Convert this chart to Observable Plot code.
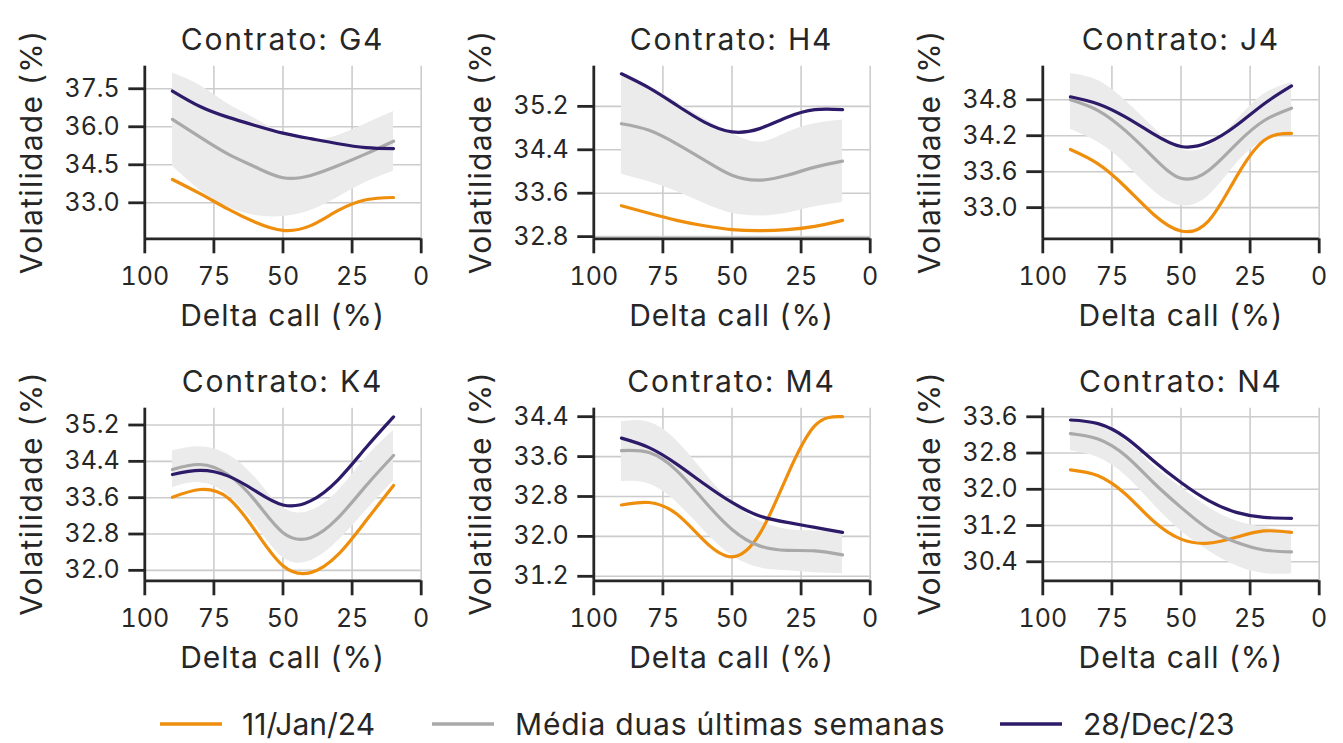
<!DOCTYPE html>
<html><head><meta charset="utf-8">
<script src="https://cdn.jsdelivr.net/npm/d3@7"></script>
<script src="https://cdn.jsdelivr.net/npm/@observablehq/plot@0.6"></script>
<style>
body{margin:0;background:#fff;}
#wrap{position:relative;width:1343px;height:743px;overflow:hidden;background:#fff;font-family:Inter,sans-serif;}
#wrap svg{position:absolute;}
</style></head><body><div id="wrap"></div>
<script>
// ---- data ----
const contracts = ["G4","H4","J4","K4","M4","N4"];
const deltas = [90,80,70,60,50,40,30,20,10];
const xTicks = [100,75,50,25,0];
const seriesNames = ["11/Jan/24","Média duas últimas semanas","28/Dec/23"];
const seriesColors = ["#ef8e0c","#a9a9a9","#2d1b69"];

const jan11 = [
  [33.92,33.36,32.76,32.23,31.91,32.10,32.70,33.12,33.21],
  [33.37,33.23,33.10,33.00,32.93,32.91,32.93,32.99,33.10],
  [33.97,33.73,33.34,32.89,32.61,32.78,33.51,34.12,34.24],
  [33.61,33.78,33.60,32.87,32.10,31.95,32.35,33.09,33.87],
  [32.63,32.68,32.45,31.91,31.59,32.05,33.22,34.22,34.40],
  [32.43,32.30,31.89,31.30,30.90,30.81,30.94,31.08,31.05]
];
const media = [
  [36.29,35.59,34.93,34.41,33.99,34.08,34.47,34.93,35.43],
  [34.88,34.76,34.51,34.21,33.93,33.84,33.93,34.08,34.19],
  [34.80,34.62,34.28,33.84,33.49,33.62,34.06,34.45,34.66],
  [34.22,34.33,34.11,33.53,32.83,32.72,33.16,33.86,34.53],
  [33.72,33.68,33.32,32.71,32.14,31.81,31.72,31.71,31.63],
  [33.23,33.11,32.74,32.15,31.60,31.12,30.83,30.66,30.62]
];
const dec28 = [
  [37.41,36.80,36.38,36.05,35.75,35.53,35.33,35.18,35.14],
  [35.80,35.54,35.22,34.91,34.73,34.79,35.00,35.14,35.14],
  [34.85,34.73,34.51,34.23,34.02,34.09,34.37,34.73,35.03],
  [34.11,34.20,34.08,33.75,33.44,33.53,34.00,34.70,35.38],
  [33.97,33.78,33.45,33.05,32.68,32.41,32.28,32.18,32.08],
  [33.53,33.45,33.14,32.63,32.15,31.75,31.49,31.38,31.36]
];
const bandHi = [
  [38.12,37.63,36.91,36.32,35.72,35.46,35.66,36.12,36.60],
  [35.75,35.56,35.28,34.97,34.70,34.54,34.72,34.88,34.95],
  [35.24,35.12,34.78,34.34,33.98,34.03,34.45,34.89,35.09],
  [34.63,34.72,34.55,34.04,33.38,33.31,33.75,34.48,35.08],
  [34.30,34.29,33.92,33.28,32.68,32.31,32.14,32.11,32.08],
  [33.51,33.40,33.07,32.52,32.04,31.60,31.30,31.16,31.08]
];
const bandLo = [
  [34.44,33.49,32.83,32.50,32.46,32.70,33.22,33.81,34.25],
  [33.95,33.81,33.63,33.41,33.23,33.18,33.23,33.35,33.43],
  [34.31,34.09,33.73,33.28,33.03,33.20,33.73,34.12,34.26],
  [33.82,33.93,33.67,33.01,32.28,32.21,32.65,33.31,33.97],
  [33.10,33.05,32.68,32.11,31.61,31.37,31.31,31.27,31.25],
  [32.85,32.70,32.30,31.67,31.08,30.64,30.31,30.14,30.13]
];
const yTicks = [
  [33.0,34.5,36.0,37.5],
  [32.8,33.6,34.4,35.2],
  [33.0,33.6,34.2,34.8],
  [32.0,32.8,33.6,34.4,35.2],
  [31.2,32.0,32.8,33.6,34.4],
  [30.4,31.2,32.0,32.8,33.6]
];
const yDomains = [
  [31.58,38.39],
  [32.76,35.94],
  [32.48,35.36],
  [31.77,35.57],
  [31.11,34.57],
  [29.98,33.79]
];

// ---- layout ----
const colLeft = [0, 449, 898.4];
const rowTop = [0, 341.6];
const W = 440, H = 340, mL = 144.3, mR = 19.3, mT = 65.7, mB = 101.7;
const ink = "#262626";
const wrap = document.getElementById("wrap");

contracts.forEach((c, i) => {
  const col = i % 3, row = Math.floor(i / 3);
  const rows = deltas.map((d, k) => ({
    delta: d, lo: bandLo[i][k], hi: bandHi[i][k],
    jan: jan11[i][k], med: media[i][k], dec: dec28[i][k]
  }));
  const svg = Plot.plot({
    width: W, height: H,
    marginLeft: mL, marginRight: mR, marginTop: mT, marginBottom: mB,
    style: {fontFamily: "Inter, sans-serif", fontSize: "25px", color: ink, background: "transparent", overflow: "visible"},
    x: {domain: [100, 0]},
    y: {domain: yDomains[i]},
    marks: [
      Plot.gridX(xTicks, {stroke: "#cccccc", strokeOpacity: 1, strokeWidth: 1.6}),
      Plot.gridY(yTicks[i], {stroke: "#cccccc", strokeOpacity: 1, strokeWidth: 1.6}),
      Plot.areaY(rows, {x: "delta", y1: "lo", y2: "hi", fill: "#ebebeb", fillOpacity: 1, curve: "natural"}),
      Plot.lineY(rows, {x: "delta", y: "jan", stroke: seriesColors[0], strokeWidth: 3.2, curve: "natural"}),
      Plot.lineY(rows, {x: "delta", y: "med", stroke: seriesColors[1], strokeWidth: 3.2, curve: "natural"}),
      Plot.lineY(rows, {x: "delta", y: "dec", stroke: seriesColors[2], strokeWidth: 3.2, curve: "natural"}),
      Plot.ruleX([100], {stroke: ink, strokeWidth: 2.8}),
      Plot.ruleY([yDomains[i][0]], {stroke: ink, strokeWidth: 2.8}),
      Plot.axisX(xTicks, {tickSize: 15, tickPadding: 13, fontSize: 25, strokeWidth: 2.8, label: null}),
      Plot.axisY(yTicks[i], {tickSize: 16, tickPadding: 9, fontSize: 25, strokeWidth: 2.8, label: null, tickFormat: d3.format(".1f")})
    ]
  });
  svg.style.left = colLeft[col] + "px";
  svg.style.top = rowTop[row] + "px";
  wrap.appendChild(svg);
});

// ---- text overlay: titles, axis labels, legend ----
const ov = d3.select(wrap).append("svg")
  .attr("width", 1343).attr("height", 743)
  .style("left", "0px").style("top", "0px")
  .style("font-family", "Inter, sans-serif")
  .attr("fill", ink);

contracts.forEach((c, i) => {
  const col = i % 3, row = Math.floor(i / 3);
  const cx = colLeft[col] + mL + (W - mL - mR) / 2;
  const top = rowTop[row];
  ov.append("text").attr("x", cx).attr("y", top + 50).attr("text-anchor", "middle")
    .attr("font-size", 30).attr("letter-spacing", "1.8px").text("Contrato: " + c);
  ov.append("text").attr("x", cx).attr("y", top + 326).attr("text-anchor", "middle")
    .attr("font-size", 30).attr("letter-spacing", "1px").text("Delta call (%)");
  ov.append("text").attr("transform", `translate(${colLeft[col] + 42},${top + mT + (H - mT - mB) / 2}) rotate(-90)`)
    .attr("text-anchor", "middle").attr("font-size", 30).attr("letter-spacing", "1.3px").text("Volatilidade (%)");
});

const legX = [[160, 242], [432, 515], [1000, 1083]];
seriesNames.forEach((s, k) => {
  ov.append("line").attr("x1", legX[k][0]).attr("x2", legX[k][0] + 62)
    .attr("y1", 724).attr("y2", 724).attr("stroke", seriesColors[k]).attr("stroke-width", 3.5);
  ov.append("text").attr("x", legX[k][1]).attr("y", 735).attr("font-size", 30)
    .attr("letter-spacing", k === 1 ? "0.8px" : "0px").text(s);
});
</script></body></html>
